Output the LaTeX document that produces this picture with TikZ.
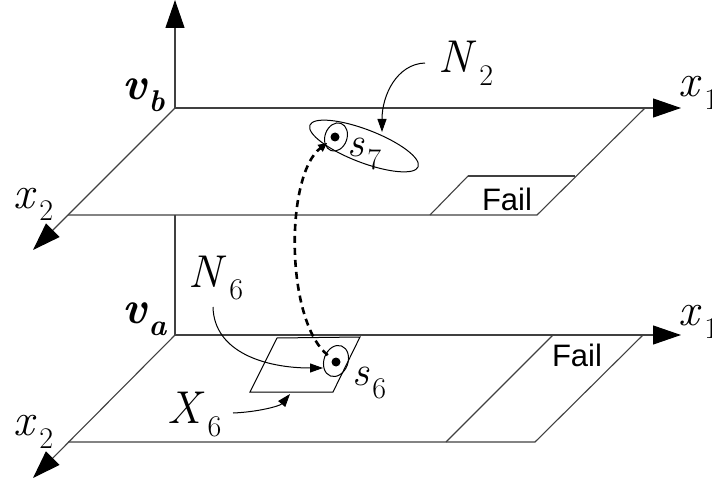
\documentclass[tikz,border=0pt]{standalone}
\usepackage{fontspec}
\newfontfamily\failfont{Liberation Sans}
\usetikzlibrary{arrows.meta, shapes.geometric}
\newcommand{\subl}[2]{\textit{#1}\hspace{3pt}\raisebox{-13pt}{\fontsize{30}{30}\selectfont #2}}
\newcommand{\bsubl}[2]{\textbf{\textit{#1\hspace{2pt}\raisebox{-12pt}{\fontsize{30}{30}\selectfont #2}}}}

\begin{document}
\begin{tikzpicture}[x=1pt, y=-1pt,
  plane/.style={line width=1.1pt, draw=black!75},
  axis/.style={line width=1.1pt, draw=black!75, -{Triangle[length=28pt, width=19pt, black]}},
  pointer/.style={line width=1pt, -{Triangle[length=13pt, width=9pt]}},
  jump/.style={line width=2.6pt, dash pattern=on 7pt off 5pt, -{Triangle[length=9pt, width=8pt]}},
  lbl/.style={font=\fontsize{46}{46}\selectfont, inner sep=0pt, anchor=base west},
  slbl/.style={font=\fontsize{42}{42}\selectfont, inner sep=0pt, anchor=base west},
  failtxt/.style={font=\failfont\fontsize{31}{31}\selectfont, inner sep=0pt},
  region/.style={ellipse, draw, line width=1pt, inner sep=0pt},
  state/.style={circle, fill, inner sep=0pt, minimum size=9pt},
]
\useasboundingbox (0,0) rectangle (712,481);

% --- upper plane (v_b) ---
\coordinate (bO) at (175,108);
\coordinate (bBR) at (645,108);
\coordinate (bFR) at (537,215);
\coordinate (bFL) at (68,215);
\coordinate (bX1) at (681,108);
\coordinate (bX2) at (33,250);
\coordinate (bV) at (175,0);
\coordinate (bMid) at (175,215);
\draw[plane] (bBR) -- (bFR) -- (bFL);
\draw[axis] (bO) -- (bX1);
\draw[axis] (bO) -- (bX2);
\draw[axis] (bO) -- (bV);
\draw[plane] (468,176) -- (575,176);
\draw[plane] (430,215) -- (468,176);
\node[failtxt] (failb) at (507,199) {Fail};

% --- lower plane (v_a) ---
\coordinate (aO) at (175,335);
\coordinate (aBR) at (643,335);
\coordinate (aFR) at (535,442);
\coordinate (aFL) at (68,442);
\coordinate (aX1) at (681,335);
\coordinate (aX2) at (33,478);
\draw[plane] (aBR) -- (aFR) -- (aFL);
\draw[axis] (aO) -- (aX1);
\draw[axis] (aO) -- (aX2);
\draw[plane] (bMid) -- (aO);
\draw[plane] (553,335) -- (446,442);
\node[failtxt] (faila) at (577,355) {Fail};

% --- axis labels ---
\node[lbl] (x1b) at (678,97) {\subl{x}{1}};
\node[lbl] (x2b) at (13,208) {\subl{x}{2}};
\node[lbl] (vb) at (122,100) {\bsubl{v}{b}};
\node[lbl] (x1a) at (678,325) {\subl{x}{1}};
\node[lbl] (x2a) at (13,435) {\subl{x}{2}};
\node[lbl] (va) at (122,323) {\bsubl{v}{a}};

% --- states and regions ---
\node[region, minimum width=116pt, minimum height=33pt, rotate=-21] (N2reg) at (364,146) {};
\node[region, minimum width=22pt, minimum height=29pt, rotate=-20] (s7reg) at (336,137) {};
\node[state] (s7) at (335,137) {};
\node[slbl] (s7lbl) at (347,157) {\subl{s}{7}};

\draw[line width=1pt] (277,338) coordinate (X6a) -- (360,337) -- (333,392) -- (250,392) coordinate (X6d) -- cycle;
\node[region, minimum width=24pt, minimum height=32pt, rotate=-20] (s6reg) at (336,361) {};
\node[state] (s6) at (336,362) {};
\node[slbl] (s6lbl) at (352,385) {\subl{s}{6}};

% --- pointer labels ---
\node[lbl] (N2) at (438,73) {\subl{N}{2}};
\node[lbl] (N6) at (188,287) {\subl{N}{6}};
\node[lbl] (X6) at (167,423) {\subl{X}{6}};
\coordinate (N2tip) at (382,132);
\coordinate (N6tip) at (323,368);
\coordinate (X6tip) at (290,394);
\draw[pointer] (425,63) .. controls (397,64) and (382,95) .. (N2tip);
\draw[pointer] (213,307) .. controls (214,352) and (265,368) .. (N6tip);
\draw[pointer] (233,413) .. controls (258,412) and (280,406) .. (X6tip);

% --- transition ---
\draw[jump, shorten <=6pt, shorten >=5pt] (s6) .. controls (285,320) and (285,175) .. (s7);
\end{tikzpicture}
\end{document}
